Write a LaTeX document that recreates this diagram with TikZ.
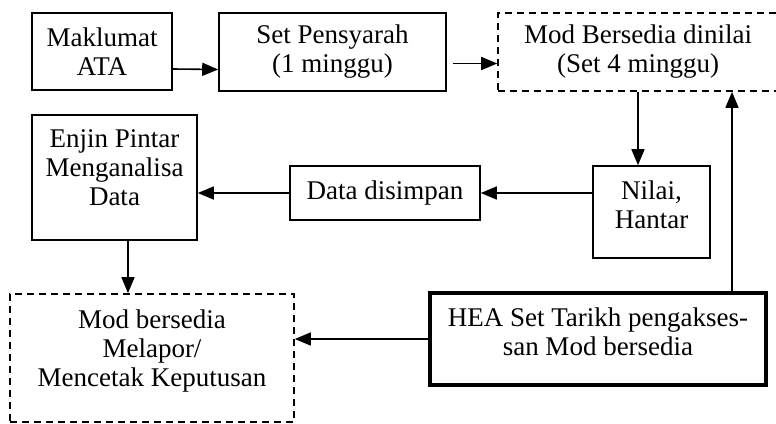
\documentclass[tikz,border=0pt]{standalone}
\usepackage{fontspec}
\setmainfont{Liberation Serif}
\usepackage{tikz}
\usetikzlibrary{arrows.meta}

\begin{document}
\begin{tikzpicture}[
      x=0.5pt, y=-0.5pt,
      box/.style={draw, line width=0.8pt, inner sep=0pt, align=center,
                  font=\fontsize{13.5}{14.5}\selectfont},
      dbox/.style={box, dash pattern=on 3.5pt off 2.5pt},
      bold box/.style={box, line width=2.4pt},
      arr/.style={-{Triangle[length=8pt, width=6.5pt]}, line width=0.8pt}
    ]

    \useasboundingbox (0,0) rectangle (776,423);
    \clip (0,0) rectangle (776,423);

    % ══ top row ══════════════════════════════════════════════════════════════
    \node[box, minimum width=70pt, minimum height=38.5pt] (maklumat) at (102,51.5)
      {Maklumat\\ATA};
    \node[box, minimum width=113.5pt, minimum height=39pt] (pensyarah) at (332.5,52)
      {Set Pensyarah\\(1 minggu)};
    \node[dbox, minimum width=140pt, minimum height=39pt] (dinilai) at (638,52)
      {Mod Bersedia dinilai\\(Set 4 minggu)};

    % ══ middle row ═══════════════════════════════════════════════════════════
    % (trailing \\[..] lifts the text a little inside the taller boxes)
    \node[box, minimum width=82.5pt, minimum height=62.5pt] (enjin) at (114.5,177.5)
      {Enjin Pintar\\Menganalisa\\Data\\[-4.5pt]};
    \node[box, minimum width=95pt, minimum height=27pt] (simpan) at (385,193)
      {Data disimpan};
    \node[box, minimum width=58.5pt, minimum height=46pt] (nilai) at (651.5,212)
      {Nilai,\\Hantar\\[-7.5pt]};

    % ══ bottom row ═══════════════════════════════════════════════════════════
    \node[dbox, minimum width=142pt, minimum height=64pt] (lapor) at (152,358)
      {Mod bersedia\\Melapor/\\Mencetak Keputusan\\[-5pt]};
    \node[bold box, minimum width=168pt, minimum height=46pt] (hea) at (598,339)
      {HEA Set Tarikh pengakses-\\san Mod bersedia\\[-7.5pt]};

    % arrows
    \draw[arr] ([yshift=-8.75pt]maklumat.east) -- ([yshift=-8.75pt]pensyarah.west);
    \draw[arr, shorten <=3pt] ([yshift=-5.75pt]pensyarah.east)
      -- ([yshift=-5.75pt]dinilai.west);
    \draw[arr] (dinilai.south) -- (dinilai.south |- nilai.north);
    \draw[arr] (nilai.west |- simpan.east) -- (simpan.east);
    \draw[arr] (simpan.west) -- (simpan.west -| enjin.east);
    \coordinate (down) at ([xshift=6.75pt]enjin.south);
    \draw[arr] (down) -- (down |- lapor.north);
    \draw[arr] (hea.west) -- (hea.west -| lapor.east);
    \coordinate (up) at ([xshift=67pt]hea.north);
    \draw[arr] (up) -- (up |- dinilai.south);

  \end{tikzpicture}
\end{document}
